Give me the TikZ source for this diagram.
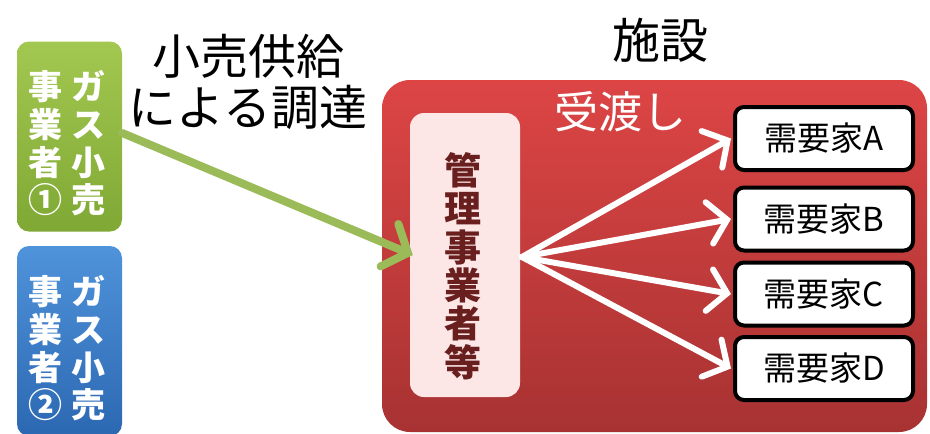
\documentclass[tikz,border=0pt]{standalone}
\usepackage{fontspec}
\setmainfont{Noto Sans CJK JP}
\usetikzlibrary{arrows.meta}
\definecolor{grtop}{HTML}{A3C851}
\definecolor{grbot}{HTML}{7FA834}
\definecolor{bltop}{HTML}{4F93DB}
\definecolor{blbot}{HTML}{2C68B2}
\definecolor{rdtop}{HTML}{DD4545}
\definecolor{rdbot}{HTML}{A83232}
\definecolor{pinkfill}{HTML}{FCE6E6}
\definecolor{maroon}{HTML}{6A1F1F}
\definecolor{arrgreen}{HTML}{9BBB59}
\tikzset{
  sidebox/.style={rounded corners=12pt, minimum width=105pt, minimum height=190pt, draw=none},
  vtext/.style={font=\fontsize{34}{37.7}\selectfont\bfseries, text=white, align=center, inner sep=0pt},
  custbox/.style={draw=black, line width=4pt, fill=white, rounded corners=9pt, minimum width=178pt, minimum height=63pt, font=\fontsize{33}{36}\selectfont},
  whitearrow/.style={draw=white, line width=6pt, line cap=round, -{Straight Barb[length=18pt,width=42pt,line cap=round]}},
}
\begin{document}
\begin{tikzpicture}[x=1pt,y=-1pt]
\useasboundingbox (0,0) rectangle (930,434);
% side boxes
\node[sidebox, top color=grtop, bottom color=grbot] (g1) at (69.5,136.5) {};
\node[vtext] (g1a) at (45,143.5) {事\\業\\者\\①};
\node[vtext] (g1b) at (88,143.5) {ガ\\ス\\小\\売};
\node[sidebox, top color=bltop, bottom color=blbot] (b2) at (69.5,341) {};
\node[vtext] (b2a) at (45,348.5) {事\\業\\者\\②};
\node[vtext] (b2b) at (88,348.5) {ガ\\ス\\小\\売};
% title
\node[font=\fontsize{48}{51}\selectfont, align=center, inner sep=0pt] (title) at (248,82) {小売供給\\による調達};
\node[font=\fontsize{48}{50}\selectfont, inner sep=0pt] (shisetsu) at (660,40) {施設};
% red facility box
\node[rounded corners=28pt, top color=rdtop, bottom color=rdbot, minimum width=545pt, minimum height=352pt, draw=none] (fac) at (654.5,256) {};
\node[font=\fontsize{44}{46}\selectfont, text=white, inner sep=0pt] (uke) at (620,112) {受渡し};
% manager box
\node[rounded corners=14pt, fill=pinkfill, minimum width=110pt, minimum height=284pt, draw=none] (mgr) at (465,255) {};
\node[font=\fontsize{37}{38.4}\selectfont\bfseries, text=maroon, align=center, inner sep=0pt] (mgrt) at (463,266) {管\\理\\事\\業\\者\\等};
% customers
\node[custbox] (cA) at (824,138.5) {需要家A};
\node[custbox] (cB) at (824,219) {需要家B};
\node[custbox] (cC) at (824,294) {需要家C};
\node[custbox] (cD) at (824,368.5) {需要家D};
% arrows
\draw[draw=arrgreen, line width=8pt, line cap=round, -{Straight Barb[length=20pt,width=46pt,line cap=round]}] (g1.east |- 0,133) -- ([xshift=3pt]mgr.west);
\coordinate (src) at (522,257);
\draw[whitearrow] (src) -- ([xshift=-2pt]cA.west);
\draw[whitearrow] (src) -- ([xshift=-2pt]cB.west);
\draw[whitearrow] (src) -- ([xshift=-2pt]cC.west);
\draw[whitearrow] (src) -- ([xshift=-2pt]cD.west);
\end{tikzpicture}
\end{document}
